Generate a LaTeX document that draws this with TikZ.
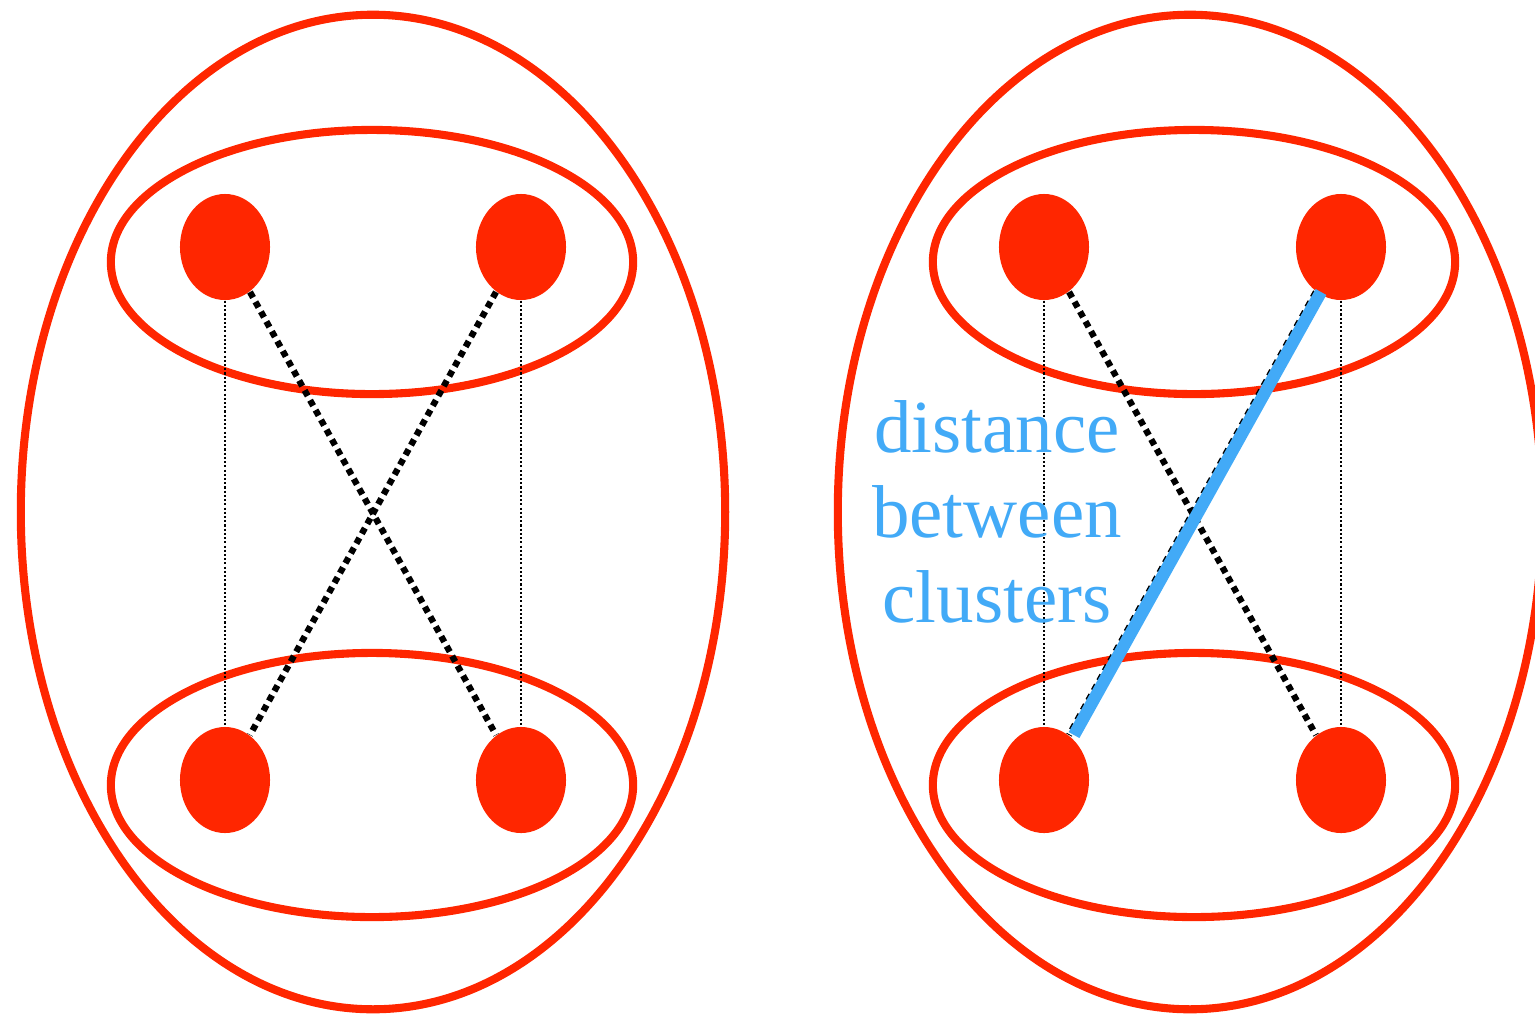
\documentclass[tikz,border=0pt]{standalone}
\usepackage{fontspec}
\setmainfont{Liberation Serif}
\usepackage{xcolor}
\usetikzlibrary{shapes.geometric, positioning}

\definecolor{clusterred}{HTML}{FF2600}
\definecolor{linkblue}{HTML}{42AAF7}

\tikzset{
  point/.style={ellipse, fill=clusterred, inner sep=0pt, minimum width=0.9cm, minimum height=1.06cm},
  ring/.style={draw=clusterred, line width=2.3pt},
  thinlink/.style={line width=0.6pt, dash pattern=on 0.6pt off 0.6pt},
  thicklink/.style={line width=1.8pt, dash pattern=on 1.8pt off 1.4pt},
  bestlink/.style={draw=linkblue, line width=3.5pt}
}

\begin{document}
\begin{tikzpicture}[x=0.01cm, y=-0.01cm]
    \useasboundingbox (0,0) rectangle (1535,1014);

    % Left cluster pair
    \draw[ring] (373,512) ellipse (3.52cm and 4.97cm);
    \draw[ring] (372,262) ellipse (2.61cm and 1.32cm);
    \draw[ring] (372,785) ellipse (2.61cm and 1.32cm);

    \node[point] (LA) at (225,247) {};
    \node[point] (LB) at (521,247) {};
    \node[point] (LC) at (225,780) {};
    \node[point] (LD) at (521,780) {};

    \draw[thinlink] (LA.south) -- (LC.north);
    \draw[thinlink] (LB.south) -- (LD.north);
    \draw[thicklink] (LA) -- (LD);
    \draw[thicklink] (LB) -- (LC);

    % Right cluster pair
    \draw[ring] (1190,512) ellipse (3.52cm and 4.97cm);
    \draw[ring] (1194,262) ellipse (2.61cm and 1.32cm);
    \draw[ring] (1194,785) ellipse (2.61cm and 1.32cm);

    \node[point] (RA) at (1044,247) {};
    \node[point] (RB) at (1341,247) {};
    \node[point] (RC) at (1044,780) {};
    \node[point] (RD) at (1341,780) {};

    \draw[thinlink] (RA.south) -- (RC.north);
    \draw[thinlink] (RB.south) -- (RD.north);
    \draw[thicklink] (RA) -- (RD);
    \draw[thicklink] (RB) -- (RC);

    % Longest link
    \draw[bestlink, transform canvas={xshift=0.05cm}] (RB) -- (RC);
    \node[text=linkblue, font=\fontsize{21.3}{24.2}\selectfont, align=center] (label) at (997,512) {distance\\between\\clusters};
\end{tikzpicture}
\end{document}
